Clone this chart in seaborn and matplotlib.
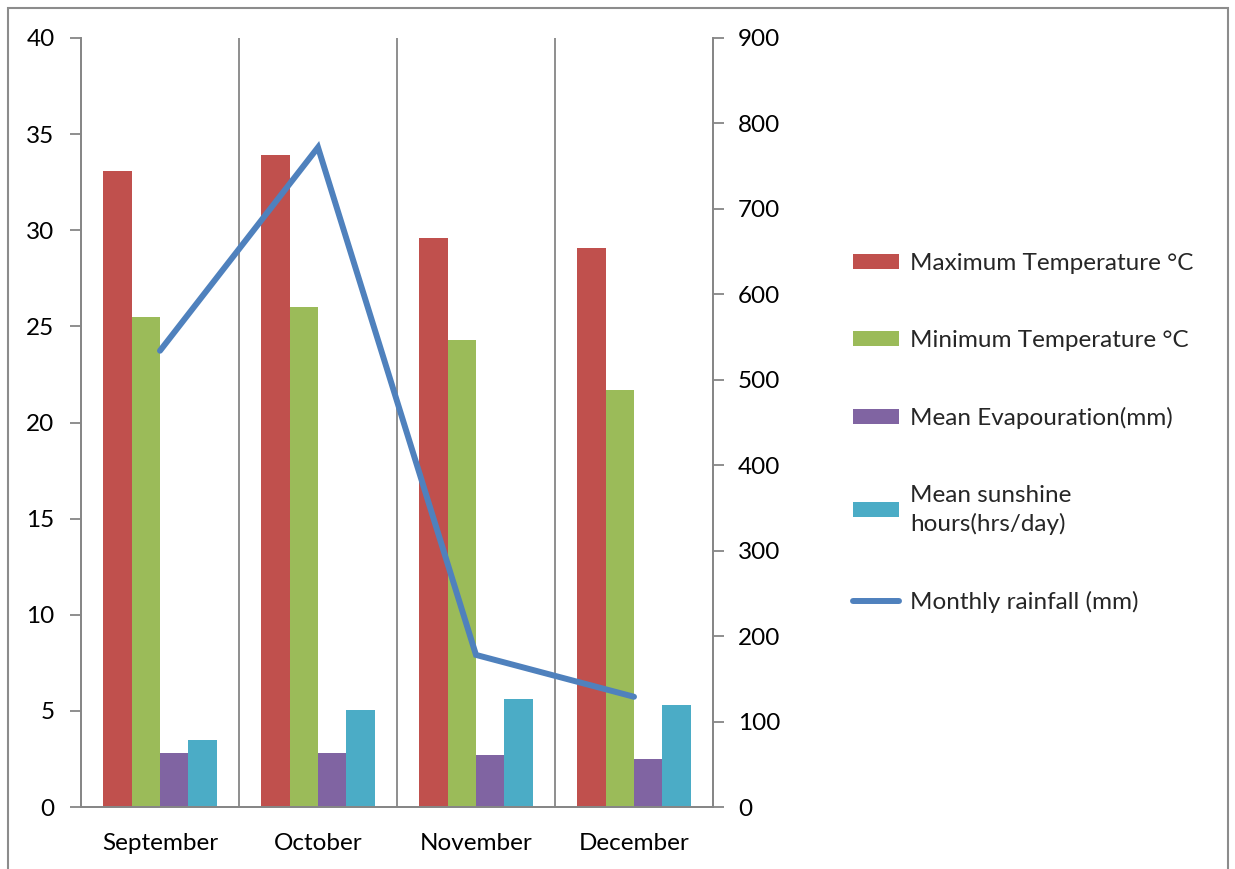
import matplotlib
matplotlib.use("Agg")
import matplotlib.pyplot as plt
import numpy as np
import pandas as pd
import seaborn as sns
from matplotlib.patches import Rectangle, Patch
from matplotlib.lines import Line2D

# data
months = ["September", "October", "November", "December"]
max_temp = [33.1, 33.9, 29.6, 29.1]
min_temp = [25.5, 26.0, 24.3, 21.7]
evaporation = [2.8, 2.8, 2.7, 2.5]
sunshine = [3.5, 5.05, 5.6, 5.3]
rainfall = [534, 772, 178, 129]

series_names = ["Maximum Temperature °C", "Minimum Temperature °C",
                "Mean Evapouration(mm)", "Mean sunshine\nhours(hrs/day)"]
bar_colors = ["#C0504D", "#9BBB59", "#8064A2", "#4BACC6"]
line_name = "Monthly rainfall (mm)"
line_color = "#4F81BD"
grey = "#868686"
fs = 17.5

sns.set_style("white")
plt.rcParams["font.family"] = ["Lato", "DejaVu Sans"]

df = pd.DataFrame({"month": months, series_names[0]: max_temp, series_names[1]: min_temp,
                   series_names[2]: evaporation, series_names[3]: sunshine})
long_df = df.melt(id_vars="month", var_name="series", value_name="value")

fig = plt.figure(figsize=(12.35, 8.69), dpi=100)
ax = fig.add_axes([81 / 1235, 62 / 869, 632 / 1235, 769 / 869])

sns.barplot(data=long_df, x="month", y="value", hue="series", order=months,
            hue_order=series_names, palette=bar_colors, width=0.72,
            saturation=1, linewidth=0, ax=ax, legend=False)

ax2 = ax.twinx()
sns.lineplot(x=np.arange(len(months)), y=rainfall, color=line_color, linewidth=4.3,
             ax=ax2, solid_capstyle="round", solid_joinstyle="miter")

# left axis
ax.set_xlim(-0.5, len(months) - 0.5)
ax.set_ylim(0, 40)
ax.set_yticks(np.arange(0, 41, 5))
ax.set_xlabel("")
ax.set_ylabel("")
ax.set_xticks(np.arange(len(months)))
ax.set_xticklabels(months)
ax.set_xticks(np.arange(-0.5, len(months)), minor=True)
ax.tick_params(axis="x", which="major", length=0, pad=19, labelsize=fs, colors="black")
ax.tick_params(axis="x", which="minor", length=8, width=1.3, color=grey, direction="out")
ax.tick_params(axis="y", length=8, width=1.3, color=grey, direction="out", pad=11,
               labelsize=fs, labelcolor="black", left=True)
for x in np.arange(0.5, len(months) - 1):
    ax.axvline(x, color=grey, linewidth=1.3, zorder=0)

# right axis
ax2.set_ylim(0, 900)
ax2.set_yticks(np.arange(0, 901, 100))
ax2.set_ylabel("")
ax2.tick_params(axis="y", length=8, width=1.3, color=grey, direction="out", pad=10,
                labelsize=fs, labelcolor="black", right=True)

for a in (ax, ax2):
    a.spines["top"].set_visible(False)
    for s in ("left", "right", "bottom"):
        a.spines[s].set_color(grey)
        a.spines[s].set_linewidth(1.3)

# legend
handles = [Patch(facecolor=c, edgecolor="none") for c in bar_colors]
handles.append(Line2D([0], [0], color=line_color, linewidth=4.3, solid_capstyle="round"))
leg = fig.legend(handles, series_names + [line_name], loc="upper left",
                 bbox_to_anchor=(853 / 1235, 1 - 253 / 869), frameon=False, fontsize=fs,
                 labelspacing=2.3, handlelength=1.9, handleheight=0.58, handletextpad=0.45,
                 borderaxespad=0, borderpad=0)
for t in leg.get_texts():
    t.set_linespacing(1.4)

# outer chart frame
fig.add_artist(Rectangle((8 / 1235, -0.05), 1220 / 1235, 1.05 - 8 / 869,
                         transform=fig.transFigure, fill=False, edgecolor="#8c8c8c",
                         linewidth=1.5))

fig.savefig("out.png", dpi=100)
